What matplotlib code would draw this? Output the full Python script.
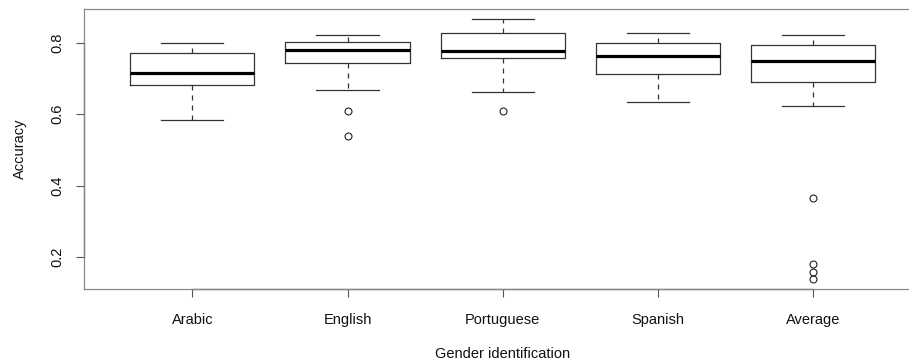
import matplotlib.pyplot as plt

# Accuracy summary per language (R-style boxplot statistics)
languages = ['Arabic', 'English', 'Portuguese', 'Spanish', 'Average']
whisker_low = [0.584, 0.668, 0.662, 0.633, 0.623]
box_low = [0.681, 0.745, 0.757, 0.713, 0.690]
medians = [0.717, 0.780, 0.778, 0.762, 0.749]
box_high = [0.771, 0.802, 0.828, 0.799, 0.795]
whisker_high = [0.801, 0.821, 0.866, 0.829, 0.823]
outliers = [[], [0.610, 0.540], [0.608], [], [0.366, 0.180, 0.158, 0.139]]

plt.rcParams['font.family'] = ['Liberation Sans', 'DejaVu Sans']

stats = []
for i, name in enumerate(languages):
    stats.append({
        'label': name,
        'whislo': whisker_low[i],
        'q1': box_low[i],
        'med': medians[i],
        'q3': box_high[i],
        'whishi': whisker_high[i],
        'fliers': outliers[i],
    })

fig = plt.figure(figsize=(9.09, 3.62), dpi=100)
ax = fig.add_axes([83.6 / 909, 73 / 362, (922 - 83.6) / 909, 280 / 362])

ax.bxp(stats, positions=range(1, 6), widths=0.8, capwidths=0.4,
       boxprops=dict(color='#333333', linewidth=0.9),
       medianprops=dict(color='black', linewidth=2.3, solid_capstyle='butt'),
       whiskerprops=dict(color='#333333', linewidth=0.9, linestyle=(0, (4, 4))),
       capprops=dict(color='#333333', linewidth=0.9),
       flierprops=dict(marker='o', markersize=5, markerfacecolor='none',
                       markeredgecolor='#222222', markeredgewidth=0.8))

# y range padded by 4% like R does
all_vals = whisker_low + whisker_high + [v for o in outliers for v in o]
lo, hi = min(all_vals), max(all_vals)
pad = (hi - lo) * 0.04
ax.set_ylim(lo - pad, hi + pad)
ax.set_xlim(0.3, 5.7)

ax.set_yticks([0.2, 0.4, 0.6, 0.8])
ax.set_yticklabels(['0.2', '0.4', '0.6', '0.8'], rotation=90, va='center')
ax.set_xticks(range(1, 6))
ax.set_xticklabels(languages)
ax.tick_params(axis='both', direction='out', length=6, width=0.8,
               color='#555555', labelsize=10.5, labelcolor='#111111')
ax.tick_params(axis='x', pad=11)
ax.tick_params(axis='y', pad=8)

for side in ax.spines.values():
    side.set_color('#888888')
    side.set_linewidth(0.9)

# axis lines spanning the tick range
ax.plot([1, 5], [0, 0], transform=ax.get_xaxis_transform(), color='#333333',
        lw=0.9, clip_on=False)
ax.plot([0, 0], [0.2, 0.8], transform=ax.get_yaxis_transform(), color='#333333',
        lw=0.9, clip_on=False)

ax.set_xlabel('Gender identification', fontsize=10.5, labelpad=15, color='#111111')
ax.set_ylabel('Accuracy', fontsize=10.5, labelpad=17, color='#111111')

fig.savefig('out.png', dpi=100)
